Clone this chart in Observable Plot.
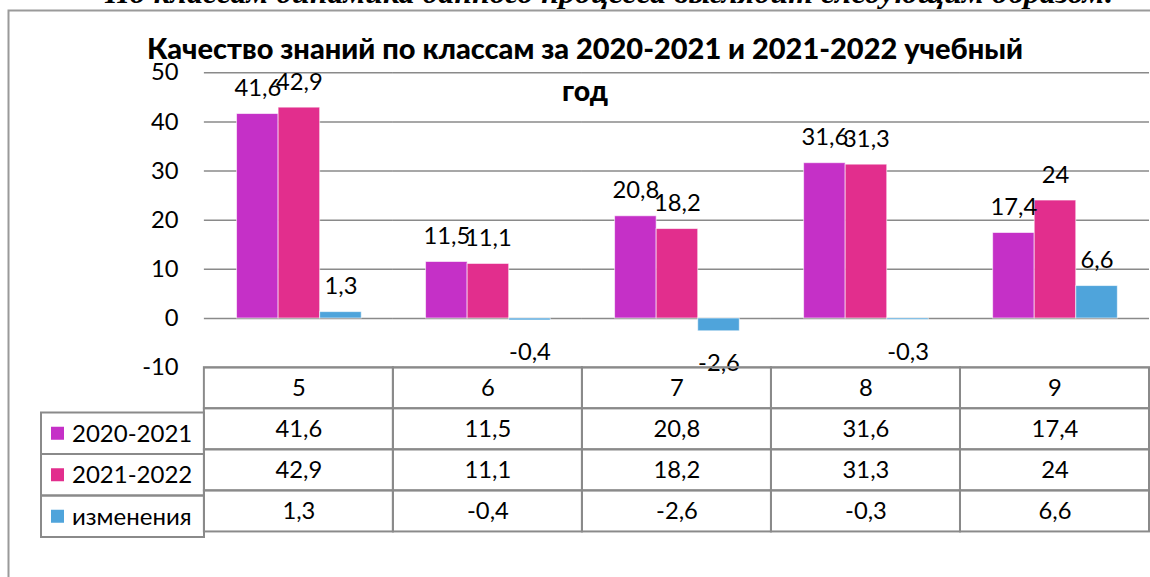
<!DOCTYPE html>
<html><head><meta charset="utf-8">
<script src="https://cdn.jsdelivr.net/npm/d3@7"></script>
<script src="https://cdn.jsdelivr.net/npm/@observablehq/plot@0.6"></script>
<style>
html,body{margin:0;padding:0;background:#fff;}
#wrap{position:relative;width:1150px;height:577px;overflow:hidden;background:#fff;}
#wrap svg{position:absolute;left:0;top:0;}
</style></head><body><div id="wrap"></div>
<script>
// ---- data ----
const categories = ["5", "6", "7", "8", "9"];
const seriesNames = ["2020-2021", "2021-2022", "изменения"];
const values2021 = [41.6, 11.5, 20.8, 31.6, 17.4];
const values2022 = [42.9, 11.1, 18.2, 31.3, 24];
const changes = [1.3, -0.4, -2.6, -0.3, 6.6];
const seriesColors = ["#C530C7", "#E22E8D", "#4FA4DB"];
const yTicks = [-10, 0, 10, 20, 30, 40, 50];
const titleLines = ["Качество знаний по классам за 2020-2021 и 2021-2022 учебный", "год"];
const topText = "По классам динамика данного процесса выглядит следующим образом:";

// ---- build tables ----
const fmt = v => String(v).replace(".", ",");
const seriesValues = [values2021, values2022, changes];
const rows = categories.flatMap((c, i) =>
  seriesNames.map((s, k) => ({cat: c, series: s, value: seriesValues[k][i]})));

const W = 1162, H = 577, mL = 204, mT = 73, mB = 206;
const yMin = -10, yMax = 50;
const unit = (H - mB - mT) / (yMax - yMin);  // px per y unit
const rowH = 41.5;
const belowY = px => yMin - px / unit;          // y value at px below the plot bottom
const tableCells = categories.flatMap((c, i) => {
  const texts = [c, ...seriesValues.map(a => fmt(a[i]))];
  return texts.map((t, r) => ({cat: c, text: t, y1: belowY(r * rowH), y2: belowY((r + 1) * rowH), ym: belowY((r + 0.5) * rowH)}));
});

const grid = "#8a8a8a";
const font = "Lato, 'Noto Sans', sans-serif";

const chart = Plot.plot({
  width: W, height: H,
  marginLeft: mL, marginRight: 0, marginTop: mT, marginBottom: mB,
  style: {fontFamily: font, fontSize: "24px", color: "#000", background: "transparent", overflow: "visible"},
  fx: {domain: categories, padding: 0, axis: null},
  x: {domain: seriesNames, paddingInner: 0, paddingOuter: 0.753, axis: null},
  y: {domain: [yMin, yMax], axis: null},
  color: {domain: seriesNames, range: seriesColors},
  marks: [
    Plot.ruleY(yTicks, {stroke: grid, strokeWidth: 1.5}),
    Plot.barY(rows, {fx: "cat", x: "series", y: "value", fill: "series", stroke: "#fff", strokeOpacity: 0.6, strokeWidth: 1}),
    Plot.text(rows, {filter: d => d.value >= 0, fx: "cat", x: "series", y: "value", text: d => fmt(d.value), lineAnchor: "bottom", dy: -18, fill: "#000"}),
    Plot.text(rows, {filter: d => d.value < 0, fx: "cat", x: "series", y: "value", text: d => fmt(d.value), lineAnchor: "top", dy: 23, fill: "#000"}),
    Plot.barY(tableCells, {fx: "cat", y1: "y1", y2: "y2", fill: "none", stroke: grid, strokeWidth: 2}),
    Plot.text(tableCells, {fx: "cat", y: "ym", text: "text", fill: "#000"}),
    Plot.axisY({ticks: yTicks, tickFormat: d => String(d), tickSize: 0, tickPadding: 26, label: null, stroke: grid, strokeWidth: 2, line: true, fill: "#000"})
  ]
});
document.getElementById("wrap").appendChild(chart);

// ---- overlay: page frame, text above, title, legend column of the data table ----
const ov = d3.select("#wrap").append("svg").attr("width", 1150).attr("height", 577)
  .style("font-family", font).style("pointer-events", "none");
ov.append("rect").attr("x", 8.5).attr("y", 10.5).attr("width", 1200).attr("height", 700)
  .attr("fill", "none").attr("stroke", "#9a9a9a").attr("stroke-width", 2);
ov.append("text").attr("x", 105).attr("y", 3).attr("font-family", "'Liberation Serif', serif")
  .attr("font-style", "italic").attr("font-weight", "bold").attr("font-size", 30)
  .attr("textLength", 1010).attr("lengthAdjust", "spacingAndGlyphs").text(topText);
titleLines.forEach((t, i) => ov.append("text").attr("x", 585).attr("y", 59 + i * 42)
  .attr("text-anchor", "middle").attr("font-weight", 900).attr("font-size", 28.5)
  .attr("textLength", i === 0 ? 876 : null).attr("lengthAdjust", "spacingAndGlyphs").text(t));

const plotBottom = H - mB;
const lx0 = 41, lx1 = mL;
seriesNames.forEach((s, k) => {
  const top = plotBottom + (k + 1) * rowH;
  ov.append("rect").attr("x", lx0).attr("y", top).attr("width", lx1 - lx0).attr("height", rowH)
    .attr("fill", "none").attr("stroke", grid).attr("stroke-width", 2);
  ov.append("rect").attr("x", 51).attr("y", top + rowH / 2 - 6.5).attr("width", 13).attr("height", 13)
    .attr("fill", seriesColors[k]);
  ov.append("text").attr("x", 72).attr("y", top + rowH / 2).attr("dy", "0.35em")
    .attr("font-size", 24).text(s);
});
</script></body></html>
